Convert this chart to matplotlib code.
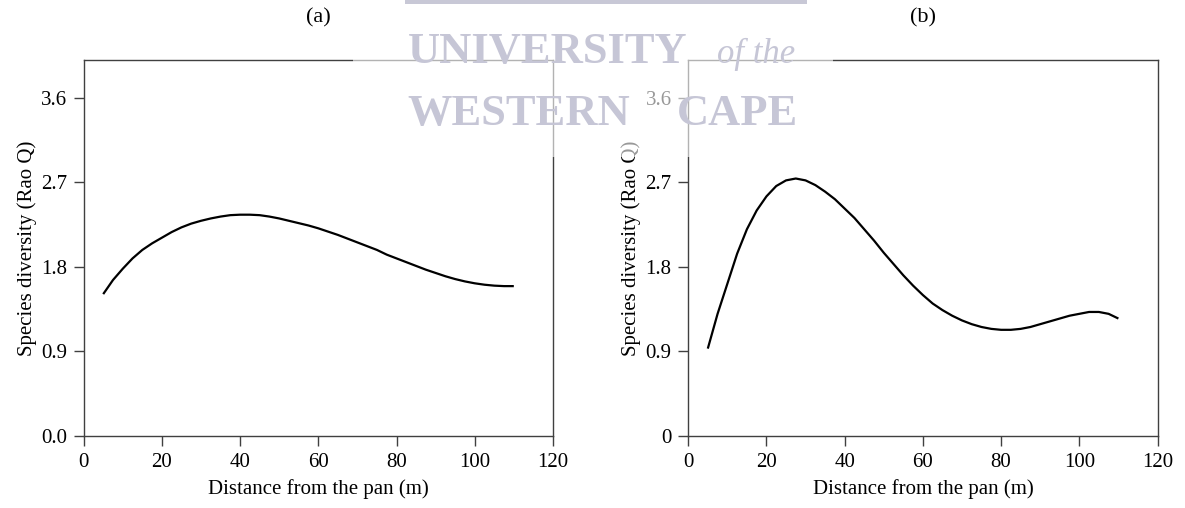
import numpy as np
import matplotlib.pyplot as plt
from matplotlib.patches import Rectangle

plt.rcParams['font.family'] = ['Liberation Serif', 'DejaVu Serif']
plt.rcParams['font.size'] = 15

# distance from the pan (m)
dist = [5, 7.5, 10, 12.5, 15, 17.5, 20, 22.5, 25, 27.5, 30, 32.5, 35, 37.5,
        40, 42.5, 45, 47.5, 50, 52.5, 55, 57.5, 60, 62.5, 65, 67.5, 70, 72.5,
        75, 77.5, 80, 82.5, 85, 87.5, 90, 92.5, 95, 97.5, 100, 102.5, 105, 107.5, 110]

# (a) Rao Q diversity
rao_a = [1.51, 1.66, 1.78, 1.89, 1.98, 2.05, 2.11, 2.17, 2.22, 2.26, 2.29, 2.315,
         2.335, 2.35, 2.355, 2.355, 2.35, 2.335, 2.315, 2.29, 2.265, 2.24, 2.21,
         2.175, 2.14, 2.10, 2.06, 2.02, 1.98, 1.93, 1.89, 1.85, 1.81, 1.77, 1.735,
         1.70, 1.67, 1.645, 1.625, 1.61, 1.60, 1.595, 1.595]

# (b) Rao Q diversity
rao_b = [0.93, 1.30, 1.62, 1.94, 2.20, 2.40, 2.55, 2.66, 2.72, 2.74, 2.72, 2.67,
         2.60, 2.52, 2.42, 2.32, 2.20, 2.08, 1.95, 1.83, 1.71, 1.60, 1.50, 1.41,
         1.34, 1.28, 1.23, 1.19, 1.16, 1.14, 1.13, 1.13, 1.14, 1.16, 1.19, 1.22,
         1.25, 1.28, 1.30, 1.32, 1.32, 1.30, 1.25]

yticks = [0.0, 0.9, 1.8, 2.7, 3.6]
ylabels_a = ['0.0', '0.9', '1.8', '2.7', '3.6']
ylabels_b = ['0', '0.9', '1.8', '2.7', '3.6']
xticks = [0, 20, 40, 60, 80, 100, 120]

fig = plt.figure(figsize=(11.85, 5.08), dpi=100)
ax1 = fig.add_axes([0.0706, 0.1417, 0.396, 0.740])
ax2 = fig.add_axes([0.5808, 0.1417, 0.396, 0.740])

for ax, y, ylab, title in [(ax1, rao_a, ylabels_a, '(a)'), (ax2, rao_b, ylabels_b, '(b)')]:
    ax.plot(dist, y, color='black', lw=1.6, solid_capstyle='butt', solid_joinstyle='round')
    ax.set_xlim(0, 120)
    ax.set_ylim(0, 4.0)
    ax.set_xticks(xticks)
    ax.set_yticks(yticks)
    ax.set_yticklabels(ylab)
    ax.set_xlabel('Distance from the pan (m)', labelpad=5)
    ax.set_ylabel('Species diversity (Rao Q)', labelpad=3)
    for s in ax.spines.values():
        s.set_color('#404040')
        s.set_linewidth(1.0)
    ax.tick_params(direction='out', length=7, width=1, color='#404040', pad=5,
                   labelsize=15, top=False, right=False)
    bb = ax.get_position()
    fig.text((bb.x0 + bb.x1) / 2, 1 - 18 / 508, title, ha='center', va='center', fontsize=16)

# watermark overlay
fig.patches.append(Rectangle((353 / 1185, 1 - 157 / 508), 480 / 1185, 157 / 508,
                             transform=fig.transFigure, facecolor='white', alpha=0.6,
                             edgecolor='none', zorder=5))
fig.patches.append(Rectangle((405 / 1185, 1 - 4 / 508), 402 / 1185, 4 / 508,
                             transform=fig.transFigure, facecolor='#c8c8d6',
                             edgecolor='none', zorder=6))
wm = '#c6c6d6'
fig.text(408 / 1185, 1 - 63 / 508, 'UNIVERSITY', fontsize=32, fontweight='bold',
         color=wm, va='baseline', ha='left', zorder=7)
fig.text(717 / 1185, 1 - 63 / 508, 'of the', fontsize=25, style='italic',
         color=wm, va='baseline', ha='left', zorder=7)
fig.text(407 / 1185, 1 - 125 / 508, 'WESTERN', fontsize=32, fontweight='bold',
         color=wm, va='baseline', ha='left', zorder=7)
fig.text(677 / 1185, 1 - 125 / 508, 'CAPE', fontsize=32, fontweight='bold',
         color=wm, va='baseline', ha='left', zorder=7)

plt.savefig('out.png', dpi=100)
